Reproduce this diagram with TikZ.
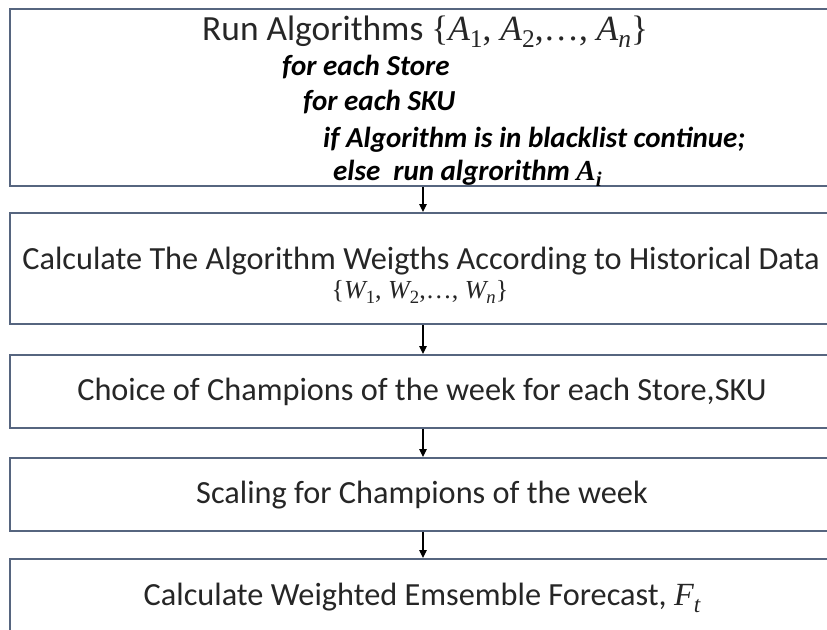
\documentclass[tikz,border=0pt]{standalone}
\usepackage{fontspec}
\setmainfont{Carlito}
\newfontfamily\mathserif{Liberation Serif}
\usetikzlibrary{arrows.meta}
\definecolor{boxline}{HTML}{56657F}
\definecolor{txt}{HTML}{262626}
% italic variable with an upright / italic subscript, set in a serif face
\newcommand\vsu[2]{{\mathserif\itshape #1}\raisebox{-0.22em}{\scalebox{0.72}{\mathserif #2}}}
\newcommand\vsi[2]{{\mathserif\itshape #1}\raisebox{-0.22em}{\scalebox{0.72}{\mathserif\itshape #2}}}
\newcommand\lbr{{\mathserif\{}}
\newcommand\rbr{{\mathserif\}}}
\newcommand\dotsc{{\mathserif ,…,}}
\begin{document}
\begin{tikzpicture}[x=1pt,y=-1pt,
  box/.style={draw=boxline, line width=2pt, rectangle, anchor=north west, inner sep=0pt},
  main/.style={text=txt, inner sep=0pt, font=\fontsize{32.3}{38}\selectfont},
  code/.style={text=black, inner sep=0pt, anchor=base west, font=\fontsize{29}{32}\selectfont\bfseries\itshape},
  arr/.style={line width=1.2pt, -{Triangle[length=8pt,width=7.5pt]}}]
\useasboundingbox (0,0) rectangle (827,629);
\clip (0,0) rectangle (827,629);
\fill[white] (0,0) rectangle (827,629);

% process boxes (running off the right edge)
\node[box, minimum width=840pt, minimum height=177pt] (b1) at (9,8) {};
\node[box, minimum width=840pt, minimum height=111pt] (b2) at (9,212) {};
\node[box, minimum width=840pt, minimum height=73pt] (b3) at (9,354) {};
\node[box, minimum width=840pt, minimum height=73pt] (b4) at (9,457) {};
\node[box, minimum width=840pt, minimum height=110pt] (b5) at (9,558) {};

% box 1
\node[main, anchor=base west, font=\fontsize{35.4}{40}\selectfont] (t1) at (202,40) {Run Algorithms \lbr\vsu{A}{1}{\mathserif, }\vsu{A}{2}\dotsc{\mathserif\ }\vsi{A}{n}\rbr};
\node[code] (c1) at (282,75) {for each Store};
\node[code] (c2) at (303,110) {for each SKU};
\node[code] (c3) at (323,147) {if Algorithm is in blacklist continue;};
\node[code] (c4) at (333,180) {else\ \ run algrorithm {\mathserif\bfseries\itshape A}\raisebox{-0.22em}{\scalebox{0.72}{\mathserif\itshape i}}};

% box 2
\node[main, anchor=base] (t2) at (421,269) {Calculate The Algorithm Weigths According to Historical Data};
\node[main, anchor=base, font=\fontsize{26}{30}\selectfont] (t2b) at (420,298) {\lbr\vsu{W}{1}{\mathserif, }\vsu{W}{2}\dotsc{\mathserif\ }\vsi{W}{n}\rbr};

% boxes 3-5
\node[main, anchor=base] (t3) at (422,400) {Choice of Champions of the week for each Store,SKU};
\node[main, anchor=base] (t4) at (422,503) {Scaling for Champions of the week};
\node[main, anchor=base] (t5) at (422,605) {Calculate Weighted Emsemble Forecast, \vsi{F}{t}};

% connectors
\coordinate (ax) at (423,0);
\draw[arr] (b1.south -| ax) -- (b2.north -| ax);
\draw[arr] (b2.south -| ax) -- (b3.north -| ax);
\draw[arr] (b3.south -| ax) -- (b4.north -| ax);
\draw[arr] (b4.south -| ax) -- (b5.north -| ax);
\end{tikzpicture}
\end{document}
